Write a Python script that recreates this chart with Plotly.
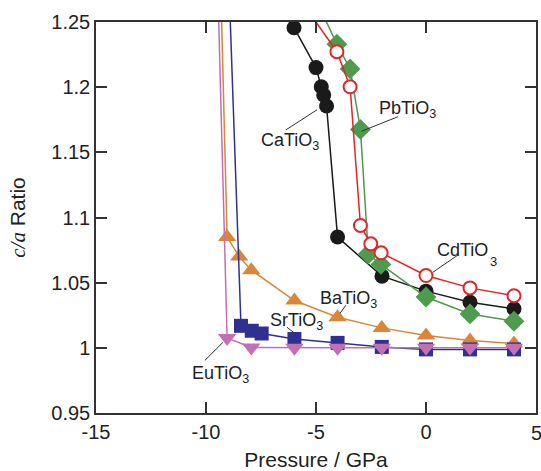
import plotly.graph_objects as go

# ---------------- data ----------------
ca_p = [-6.0, -5.0, -4.76, -4.65, -4.52, -4.02, -2.0, 0.0, 2.0, 4.0]
ca_r = [1.2456, 1.215, 1.2003, 1.194, 1.1855, 1.085, 1.055, 1.0435, 1.035, 1.030]

pb_p = [-5.0, -4.05, -3.45, -2.98, -2.62, -2.05, 0.0, 2.0, 4.0]
pb_r = [1.267, 1.233, 1.214, 1.1676, 1.072, 1.064, 1.039, 1.026, 1.0204]

cd_p = [-6.0, -4.05, -3.45, -2.98, -2.51, -2.04, 0.0, 2.0, 4.0]
cd_r = [1.274, 1.2272, 1.2003, 1.0939, 1.0798, 1.0729, 1.0555, 1.046, 1.040]

ba_p = [-9.5, -9.04, -8.49, -7.94, -5.98, -4.02, -2.01, 0.0, 2.0, 4.0]
ba_r = [1.39, 1.085, 1.070, 1.0596, 1.0363, 1.0235, 1.0153, 1.0094, 1.0056, 1.0033]

sr_p = [-9.0, -8.41, -7.92, -7.47, -5.98, -4.02, -2.01, 0.0, 2.0, 4.0]
sr_r = [1.30, 1.0169, 1.0131, 1.0110, 1.0068, 1.0038, 1.0007, 0.9988, 0.9988, 0.9988]

eu_p = [-9.5, -9.04, -7.94, -5.98, -4.02, -2.01, 0.0, 2.0, 4.0]
eu_r = [1.30, 1.0076, 1.0003, 1.0, 1.0, 1.0, 1.0, 1.0, 1.0]

x_ticks = [-15, -10, -5, 0, 5]
x_tick_text = ["-15", "-10", "-5", "0", "5"]
y_ticks = [0.95, 1.0, 1.05, 1.1, 1.15, 1.2, 1.25]
y_tick_text = ["0.95", "1", "1.05", "1.1", "1.15", "1.2", "1.25"]

# labels: text and its position
lab_text = ["CaTiO<sub>3</sub>", "PbTiO<sub>3</sub>", "CdTiO", "BaTiO<sub>3</sub>",
            "SrTiO<sub>3</sub>", "EuTiO<sub>3</sub>"]
lab_x = [-6.16, -0.82, 1.68, -3.52, -5.89, -9.34]
lab_y = [1.158, 1.1827, 1.075, 1.0373, 1.0204, 0.9792]
# leader lines: start and end
lead_x0 = [-6.36, -2.93, 0.32, -3.91, -6.32, -10.05]
lead_y0 = [1.1673, 1.1662, 1.0581, 1.0265, 1.0158, 0.9904]
lead_x1 = [-4.95, -1.28, 1.45, -3.64, -5.91, -9.23]
lead_y1 = [1.1827, 1.1773, 1.0712, 1.0327, 1.0104, 1.0042]

SANS = "Liberation Sans, Arial, sans-serif"
TICKFONT = dict(family=SANS, size=20, color="#222")

fig = go.Figure()


def add_series(px, py, color, symbol, size, fill=None, mlw=0, first_hidden=False):
    sizes = [size] * len(px)
    if first_hidden:
        sizes[0] = 0
    fig.add_trace(go.Scatter(
        x=px, y=py, mode="lines+markers", cliponaxis=False,
        line=dict(color=color, width=1.5),
        marker=dict(symbol=symbol, size=sizes, opacity=1,
                    color=fill if fill else color,
                    line=dict(color=color, width=mlw)),
        showlegend=False,
    ))


add_series(ba_p, ba_r, "#d8873a", "triangle-up", 16, first_hidden=True)
add_series(sr_p, sr_r, "#2e3192", "square", 14, first_hidden=True)
add_series(eu_p, eu_r, "#c270b4", "triangle-down", 16, first_hidden=True)
add_series(ca_p, ca_r, "#1a1a1a", "circle", 15)
add_series(pb_p, pb_r, "#4e9a4e", "diamond", 16, first_hidden=True)
add_series(cd_p, cd_r, "#e0262a", "circle", 13, fill="white", mlw=2, first_hidden=True)

ann = []
for t, tx, ty in zip(lab_text, lab_x, lab_y):
    ann.append(dict(x=tx, y=ty, xref="x", yref="y", text=t, showarrow=False,
                    font=dict(family=SANS, size=18, color="#222")))
ann.append(dict(x=3.07, y=1.066, xref="x", yref="y", text="3", showarrow=False,
                font=dict(family=SANS, size=13, color="#222")))

# the last x tick label sits at the very edge of the page, where plotly would hide it;
# draw it as an annotation at that tick instead
edge_labels = x_tick_text[-1:]
edge_vals = x_ticks[-1:]
axis_tick_text = x_tick_text[:-1] + [""]
for t, v in zip(edge_labels, edge_vals):
    ann.append(dict(x=v, y=0, xref="x", yref="paper", yanchor="top", text=t,
                    showarrow=False, yshift=-7, font=TICKFONT))

shapes = []
for a0, b0, a1, b1 in zip(lead_x0, lead_y0, lead_x1, lead_y1):
    shapes.append(dict(type="line", xref="x", yref="y", x0=a0, y0=b0, x1=a1, y1=b1,
                       line=dict(color="#333", width=1)))

axis_common = dict(showline=True, linecolor="#333", linewidth=1.5, mirror="ticks",
                   ticks="inside", ticklen=11, tickwidth=1.5, tickcolor="#333",
                   showgrid=False, zeroline=False, automargin=False,
                   tickfont=TICKFONT)

fig.update_layout(
    width=541, height=471,
    margin=dict(l=96, r=5, t=22, b=58),
    paper_bgcolor="white", plot_bgcolor="white",
    annotations=ann, shapes=shapes,
    xaxis=dict(range=[-15, 5], tickvals=x_ticks, ticktext=axis_tick_text,
               title=dict(text="Pressure / GPa", font=dict(family=SANS, size=21, color="#222"),
                          standoff=16),
               **axis_common),
    yaxis=dict(range=[0.95, 1.25], tickvals=y_ticks, ticktext=y_tick_text,
               title=dict(text='<span style="font-family:Liberation Serif"><i>c/a</i></span> Ratio',
                          font=dict(family=SANS, size=21, color="#222"), standoff=20),
               **axis_common),
)

fig.write_html("out.html")
